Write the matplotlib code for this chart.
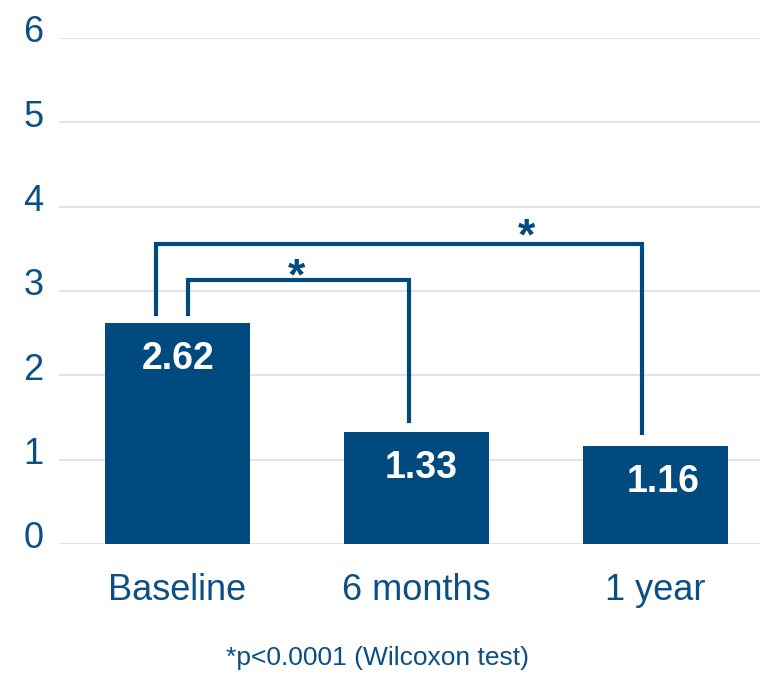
import matplotlib
matplotlib.use("Agg")
from matplotlib import pyplot as plt
import matplotlib.transforms as mtransforms

categories = ["Baseline", "6 months", "1 year"]
values = [2.62, 1.33, 1.16]
value_labels = ["2.62", "1.33", "1.16"]
y_ticks = [0, 1, 2, 3, 4, 5, 6]
footnote = "*p<0.0001 (Wilcoxon test)"

# comparisons: (from bar, to bar, bracket height, star x)
comparisons = [(0, 1, 3.13, 0.50), (0, 2, 3.56, 1.46)]

blue = "#004a80"
text_blue = "#0b4f86"
grid_col = "#d6e0ea"

plt.rcParams['font.family'] = ['Liberation Sans', 'DejaVu Sans']

fig = plt.figure(figsize=(7.6, 6.75), dpi=100)
ax = fig.add_axes([59 / 760, 1 - 544 / 675, 1 - 59 / 760, (544 - 38) / 675])

x = list(range(len(categories)))
ax.bar(x, values, width=0.607, color=blue, zorder=3)

ax.set_xlim(-0.494, 2.437)
ax.set_ylim(0, 6)
ax.set_yticks(y_ticks)
ax.yaxis.grid(True, color=grid_col, linewidth=1.2, zorder=0)
ax.set_axisbelow(True)
for s in ax.spines.values():
    s.set_visible(False)
ax.tick_params(axis='both', length=0)
ax.tick_params(axis='y', labelsize=26, labelcolor=text_blue, pad=11)
ax.tick_params(axis='x', labelsize=26, labelcolor=text_blue, pad=21)
ax.set_xticks(x)
ax.set_xticklabels(categories)

off = mtransforms.ScaledTranslation(0, 6.5 / 72, fig.dpi_scale_trans)
for lab in ax.get_yticklabels():
    lab.set_transform(lab.get_transform() + off)

# value labels inside bars
label_dx = [0.005, 0.02, 0.03]
for xi, v, t, dx in zip(x, values, value_labels, label_dx):
    ax.annotate(t, (xi + dx, v), xytext=(0, -26), textcoords='offset points',
                ha='center', va='center', color='white', fontsize=27,
                fontweight='bold', zorder=4)

# significance brackets
leg_dx = {0: [0.046, -0.088], 1: -0.031, 2: -0.056}
gaps = {0: 0.107, 1: 0.129, 2: 0.156}
star_dy = [-7, -4]
for k, (a, b, h, sx) in enumerate(comparisons):
    xa = a + leg_dx[0][k]
    xb = b + leg_dx[b]
    ax.plot([xa, xa, xb, xb], [values[a] + gaps[a], h, h, values[b] + gaps[b]],
            color=blue, linewidth=3, solid_joinstyle='miter', zorder=3)
    ax.annotate("*", (sx, h), xytext=(0, star_dy[k]), textcoords='offset points',
                ha='center', va='baseline', color=blue, fontsize=32,
                fontweight='bold')

fig.text(377 / 760, 1 - 658 / 675, footnote, ha='center', va='center',
         color=text_blue, fontsize=19)

fig.savefig("out.png", dpi=100)
